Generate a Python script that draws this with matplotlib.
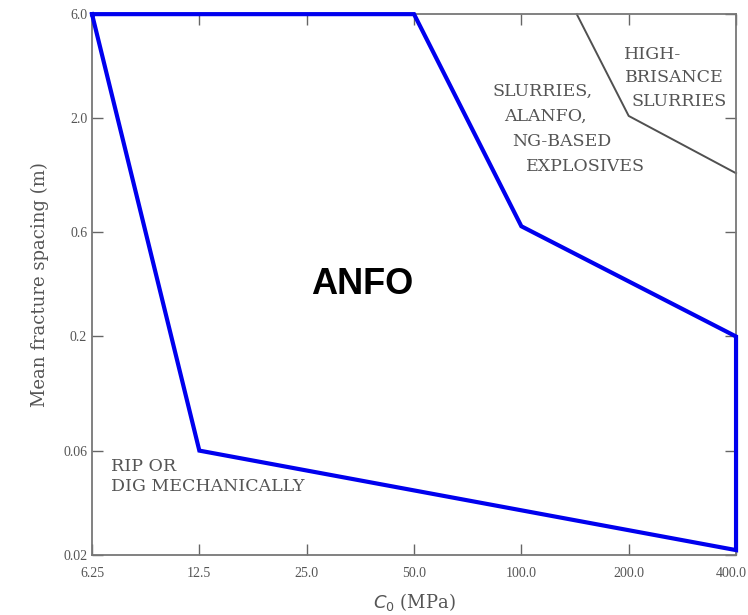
import numpy as np
import matplotlib
matplotlib.use('Agg')
import matplotlib.pyplot as plt
from matplotlib.transforms import ScaledTranslation

# strength axis (MPa) and spacing axis (m)
x_ticks = [6.25, 12.5, 25.0, 50.0, 100.0, 200.0, 400.0]
y_ticks = [0.02, 0.06, 0.2, 0.6, 2.0, 6.0]

# ANFO zone boundary
anfo_c0 = [6.25, 50.0, 100.0, 400.0, 400.0, 12.5, 6.25]
anfo_sp = [6.0, 6.0, 0.64, 0.2, 0.021, 0.06, 6.0]

# high-brisance boundary
hb_c0 = [143.0, 200.0, 400.0]
hb_sp = [6.0, 2.05, 1.12]

grey = '#555555'
serif = ['Liberation Serif', 'DejaVu Serif']
wide = ['DejaVu Serif']

fig = plt.figure(figsize=(7.48, 6.15), dpi=100)
ax = fig.add_axes([0.123, 0.098, 0.861, 0.879])
ax.set_xscale('log')
ax.set_yscale('log')
ax.set_xlim(6.25, 400)
ax.set_ylim(0.02, 6.0)

ax.plot(hb_c0, hb_sp, color='#505050', lw=1.4, clip_on=False)
ax.plot(anfo_c0, anfo_sp, color='#0000ee', lw=3.0, clip_on=False,
        solid_joinstyle='miter', zorder=5)

ax.set_xticks(x_ticks)
ax.set_xticklabels(['%g' % v if v < 10 else '%.1f' % v for v in x_ticks])
ax.set_yticks(y_ticks)
ax.set_yticklabels(['%g' % v if v < 1 else '%.1f' % v for v in y_ticks])
ax.minorticks_off()
ax.tick_params(direction='in', top=True, right=True, length=8, width=1,
               color='#666666', labelsize=10, labelcolor=grey)
ax.tick_params(axis='x', pad=9)
for lab in ax.get_xticklabels() + ax.get_yticklabels():
    lab.set_family(serif)
# last x label sits against the right edge
last = ax.get_xticklabels()[-1]
last.set_horizontalalignment('right')
last.set_transform(last.get_transform() + ScaledTranslation(0.11, 0, fig.dpi_scale_trans))
for s in ax.spines.values():
    s.set_color('#777777')
    s.set_linewidth(1.3)

ax.set_ylabel('Mean fracture spacing (m)', family=wide, fontsize=13,
              color=grey, labelpad=10)
ax.set_xlabel('$C_0$ (MPa)', family=wide, fontsize=13, color=grey,
              labelpad=8)

ax.text(0.42, 0.50, 'ANFO', transform=ax.transAxes, fontsize=26,
        fontweight='bold', family=['Liberation Sans', 'DejaVu Sans'],
        ha='center', va='center', color='black')

tk = dict(family=wide, fontsize=12.5, color=grey, va='center')
ax.text(0.03, 0.145, 'RIP OR\nDIG MECHANICALLY', ha='left',
        linespacing=1.25, transform=ax.transAxes, **tk)

# staircase lines of the middle label
for txt, xa, ya in [('SLURRIES,', 0.700, 0.857), ('ALANFO,', 0.704, 0.811),
                    ('NG-BASED', 0.730, 0.765), ('EXPLOSIVES', 0.767, 0.719)]:
    ax.text(xa, ya, txt, ha='center', transform=ax.transAxes, **tk)

for txt, xa, ya in [('HIGH-', 0.870, 0.926), ('BRISANCE', 0.904, 0.882),
                    ('SLURRIES', 0.912, 0.839)]:
    ax.text(xa, ya, txt, ha='center', transform=ax.transAxes, **tk)

fig.savefig('out.png', dpi=100)
